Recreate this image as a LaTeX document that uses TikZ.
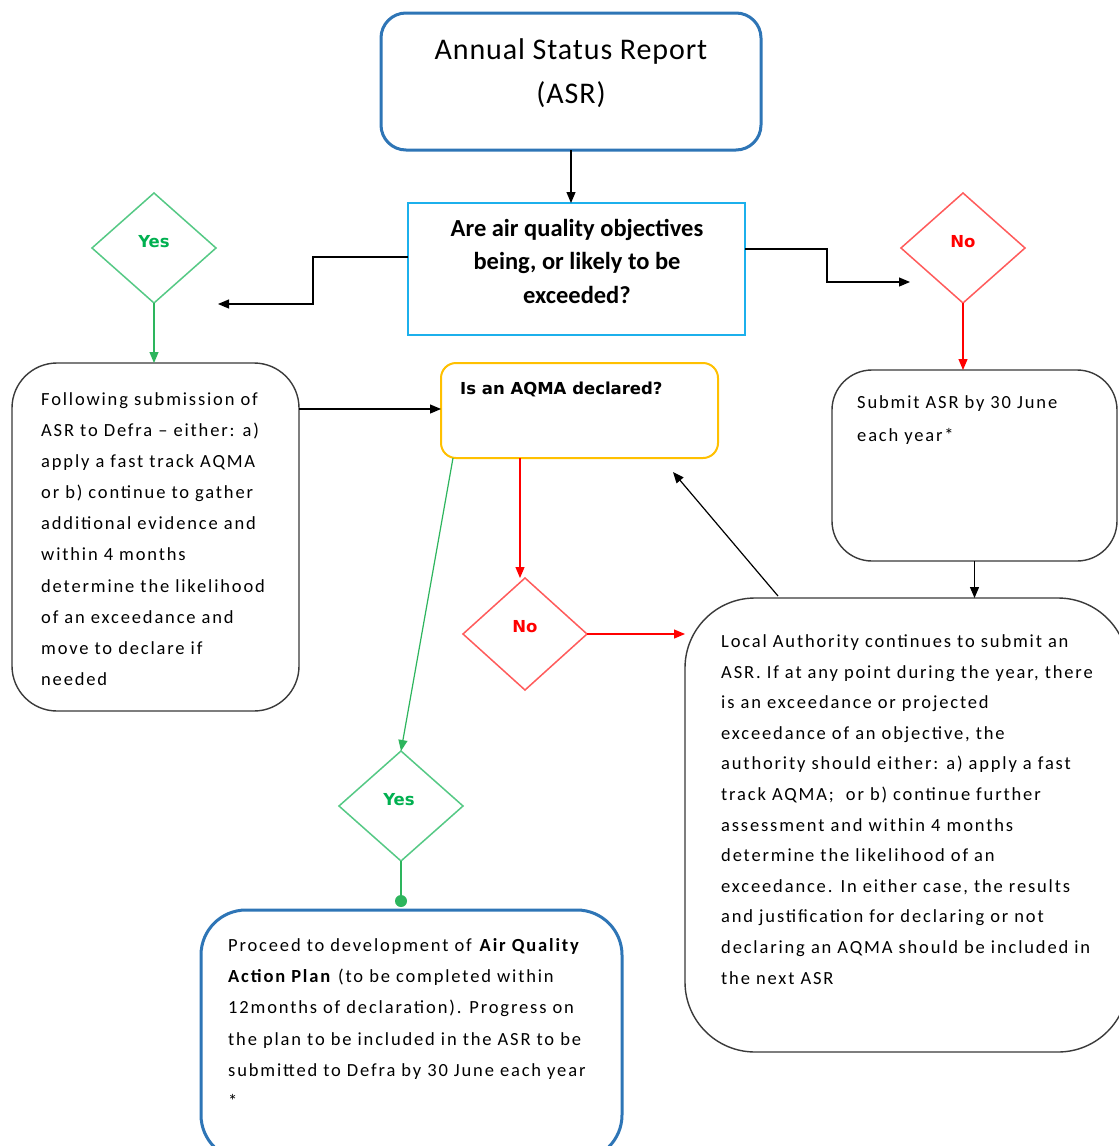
\documentclass[tikz,border=0pt]{standalone}
\usepackage{fontspec}
\setmainfont{Carlito}
\newfontfamily\bodyfont[LetterSpace=10]{Carlito}
\newfontfamily\titlefont[LetterSpace=3]{Carlito}
\newfontfamily\vfont{DejaVu Sans}
\usetikzlibrary{shapes.geometric,arrows.meta,calc}
\definecolor{asrblue}{HTML}{2E75B6}
\definecolor{qblue}{HTML}{1CB0EC}
\definecolor{ayellow}{HTML}{FFC000}
\definecolor{dgreen}{HTML}{55C985}
\definecolor{agreen}{HTML}{2DB55D}
\definecolor{tgreen}{HTML}{00B050}
\definecolor{dred}{HTML}{FF5B5B}
\definecolor{ared}{HTML}{FF0000}
\definecolor{boxgray}{HTML}{3A3A3A}
\tikzset{
  shp/.style={inner sep=0pt, outer sep=0pt},
  bluebox/.style={shp, draw=asrblue, line width=3pt, rounded corners=#1},
  graybox/.style={shp, draw=boxgray, line width=1.4pt, rounded corners=#1},
  gdiam/.style={shp, diamond, draw=dgreen, line width=1.5pt, minimum width=124pt, minimum height=110pt},
  rdiam/.style={shp, diamond, draw=dred, line width=1.5pt, minimum width=124pt, minimum height=110pt},
  dtext/.style={inner sep=0pt, font=\vfont\bfseries\fontsize{16.5}{20}\selectfont},
  body/.style={inner sep=0pt, align=left, anchor=west, font=\bodyfont\fontsize{18.5}{31.1}\selectfont},
  arr/.style={line width=1.2pt, -{Triangle[length=11pt,width=9pt]}},
  garr/.style={arr, draw=agreen, -{Triangle[length=11pt,width=9pt]}},
  rarr/.style={arr, draw=ared, -{Triangle[length=11pt,width=9pt]}},
}
\begin{document}
\begin{tikzpicture}[x=1pt,y=-1pt]
\useasboundingbox (0,0) rectangle (1119,1146);
\clip (0,0) rectangle (1119,1146);
\fill[white] (0,0) rectangle (1119,1146);
% boxes
\node[bluebox=25pt, minimum width=380pt, minimum height=137pt] (asr) at (571,81.5) {};
\node[font=\titlefont\fontsize{30}{44}\selectfont, align=center, inner sep=0pt] (asrt) at (571,73) {Annual Status Report\\(ASR)};
\node[shp, draw=qblue, line width=1.5pt, minimum width=337pt, minimum height=132pt] (q) at (576.5,269) {};
\node[font=\bfseries\fontsize{24.5}{33.5}\selectfont, align=center, inner sep=0pt] (qt) at (577,261) {Are air quality objectives\\being, or likely to be\\exceeded?};
\node[gdiam] (yes1) at (154,248) {};
\node[dtext, text=tgreen] (yes1t) at (154,242) {Yes};
\node[rdiam] (no1) at (963,248) {};
\node[dtext, text=ared] (no1t) at (963,242) {No};
\node[graybox=45pt, minimum width=287pt, minimum height=348pt] (left) at (155.5,537) {};
\node[body] (leftt) at (41,539) {Following submission of\\ASR to Defra – either: a)\\apply a fast track AQMA\\or b) continue to gather\\additional evidence and\\within 4 months\\determine the likelihood\\of an exceedance and\\move to declare if\\needed};
\node[shp, draw=ayellow, line width=2pt, rounded corners=15pt, minimum width=277pt, minimum height=95pt] (aqma) at (579.5,410.5) {};
\node[inner sep=0pt, anchor=west, font=\vfont\bfseries\fontsize{16.5}{20}\selectfont] (aqmat) at (460,389) {Is an AQMA declared?};
\node[graybox=40pt, minimum width=285pt, minimum height=191pt] (submit) at (974.5,465.5) {};
\node[body, font=\bodyfont\fontsize{18.5}{33}\selectfont] (submitt) at (857,420.5) {Submit ASR by 30 June\\each year*};
\node[graybox=70pt, minimum width=443pt, minimum height=454pt] (big) at (906.5,825) {};
\node[body, font=\bodyfont\fontsize{18.5}{30.6}\selectfont] (bigt) at (721,809.5) {Local Authority continues to submit an\\ASR. If at any point during the year, there\\is an exceedance or projected\\exceedance of an objective, the\\authority should either: a) apply a fast\\track AQMA;\ \ or b) continue further\\assessment and within 4 months\\determine the likelihood of an\\exceedance. In either case, the results\\and justification for declaring or not\\declaring an AQMA should be included in\\the next ASR};
\node[rdiam, minimum height=112pt] (no2) at (525,634) {};
\node[dtext, text=ared] (no2t) at (525,627) {No};
\node[gdiam] (yes2) at (401,806) {};
\node[dtext, text=tgreen] (yes2t) at (399,800) {Yes};
\node[bluebox=45pt, minimum width=421pt, minimum height=250pt] (bottom) at (411.5,1035) {};
\node[body] (bottomt) at (228,1023) {Proceed to development of \textbf{Air Quality}\\\textbf{Action Plan} (to be completed within\\12months of declaration). Progress on\\the plan to be included in the ASR to be\\submitted to Defra by 30 June each year\\*};
% helper coordinates
\coordinate (qL) at (408,257);
\coordinate (qLm) at (313,257);
\coordinate (qLd) at (313,304);
\coordinate (yesEnd) at (218,304);
\coordinate (qR) at (745,249);
\coordinate (qRm) at (827,249);
\coordinate (qRd) at (827,282);
\coordinate (noEnd) at (910,282);
\coordinate (lA) at (299,409);
\coordinate (aS) at (520,458);
\coordinate (aG) at (453,458);
\coordinate (bigS) at (778,596);
\coordinate (aqEnd) at (673,472);
\coordinate (dot) at (401,901);
% connectors
\draw[arr] (asr.south) -- (asr.south |- q.north);
\draw[arr] (qL) -- (qLm) -- (qLd) -- (yesEnd);
\draw[arr] (qR) -- (qRm) -- (qRd) -- (noEnd);
\draw[garr] (yes1.south) -- (yes1.south |- left.north);
\draw[rarr] (no1.south) -- (no1.south |- submit.north);
\draw[arr] (lA) -- (lA -| aqma.west);
\draw[arr] (submit.south) -- (submit.south |- big.north);
\draw[arr] (bigS) -- (aqEnd);
\draw[rarr] (aS) -- (aS |- no2.north);
\draw[rarr] (no2.east) -- (no2.east -| big.west);
\draw[garr] (aG) -- (yes2.north);
\draw[line width=1.8pt, draw=agreen] (yes2.south) -- (dot);
\fill[agreen] (dot) circle (6pt);
\end{tikzpicture}
\end{document}
